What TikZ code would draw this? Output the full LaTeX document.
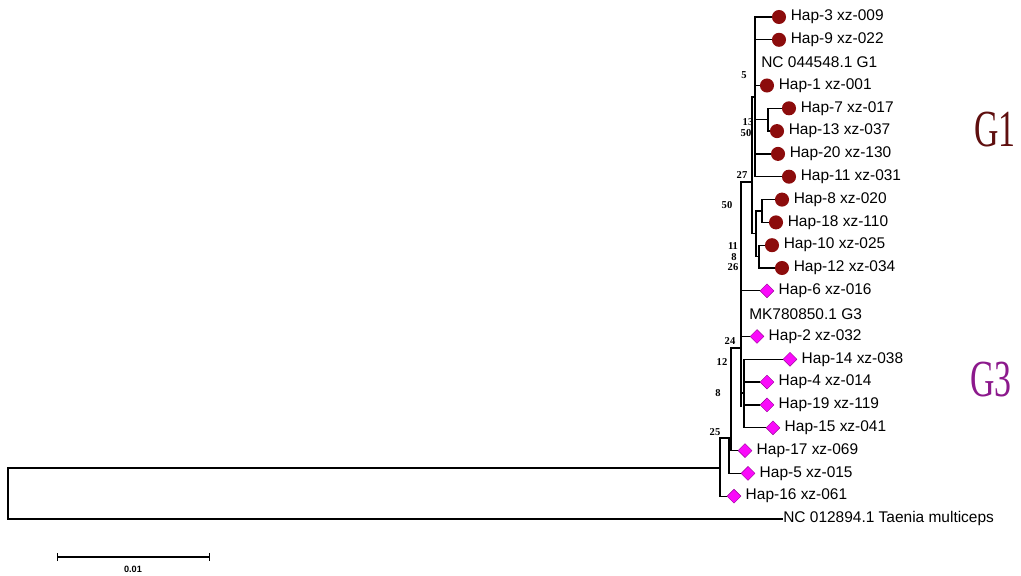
\documentclass[tikz,border=0pt]{standalone}
\usepackage{fontspec}
\setmainfont{Liberation Sans}
\newfontfamily\bsfont{Liberation Serif}
\usetikzlibrary{positioning,shapes.geometric,arrows.meta}

\definecolor{hapred}{RGB}{140,12,12}
\definecolor{hapmag}{RGB}{250,10,250}
\definecolor{hapedge}{RGB}{150,0,150}
\definecolor{gonecol}{RGB}{95,15,15}
\definecolor{gthreecol}{RGB}{140,25,140}

\tikzset{
  branch/.style={line width=0.9pt},
  gone/.style={circle,fill=hapred,minimum size=10pt,inner sep=0pt},
  gthree/.style={diamond,fill=hapmag,draw=hapedge,line width=0.3pt,minimum size=10pt,inner sep=0pt},
  lab/.style={font=\fontsize{11}{12}\selectfont,inner sep=0pt},
  boot/.style={font=\bsfont\bfseries\fontsize{7.5}{8}\selectfont,inner sep=0pt},
  grp/.style={font=\bsfont\fontsize{37}{40}\selectfont,inner sep=0pt}
}

\begin{document}
\begin{tikzpicture}[x=0.025cm,y=-0.025cm]
    \useasboundingbox (0,0) rectangle (1021,576);

    % G1 haplotypes
    \node[gone] (h3) at (779, 17) {};
    \node[lab, right=3pt of h3] (l3) {Hap-3 xz-009};
    \node[gone] (h9) at (779, 39.8) {};
    \node[lab, right=3pt of h9] (l9) {Hap-9 xz-022};
    \node[lab, anchor=west] (ncgone) at (761, 62.6) {NC 044548.1 G1};
    \node[gone] (h1) at (767, 85.5) {};
    \node[lab, right=3pt of h1] (l1) {Hap-1 xz-001};
    \node[gone] (h7) at (789, 108.3) {};
    \node[lab, right=3pt of h7] (l7) {Hap-7 xz-017};
    \node[gone] (h13) at (777, 131.1) {};
    \node[lab, right=3pt of h13] (l13) {Hap-13 xz-037};
    \node[gone] (h20) at (778, 153.9) {};
    \node[lab, right=3pt of h20] (l20) {Hap-20 xz-130};
    \node[gone] (h11) at (789, 176.7) {};
    \node[lab, right=3pt of h11] (l11) {Hap-11 xz-031};
    \node[gone] (h8) at (782, 199.6) {};
    \node[lab, right=3pt of h8] (l8) {Hap-8 xz-020};
    \node[gone] (h18) at (776, 222.4) {};
    \node[lab, right=3pt of h18] (l18) {Hap-18 xz-110};
    \node[gone] (h10) at (772, 245.2) {};
    \node[lab, right=3pt of h10] (l10) {Hap-10 xz-025};
    \node[gone] (h12) at (782, 268) {};
    \node[lab, right=3pt of h12] (l12) {Hap-12 xz-034};

    % G3 haplotypes
    \node[gthree] (h6) at (767, 290.8) {};
    \node[lab, right=3pt of h6] (l6) {Hap-6 xz-016};
    \node[lab, anchor=west] (mkgthree) at (749, 313.7) {MK780850.1 G3};
    \node[gthree] (h2) at (757, 336.5) {};
    \node[lab, right=3pt of h2] (l2) {Hap-2 xz-032};
    \node[gthree] (h14) at (790, 359.3) {};
    \node[lab, right=3pt of h14] (l14) {Hap-14 xz-038};
    \node[gthree] (h4) at (767, 382.1) {};
    \node[lab, right=3pt of h4] (l4) {Hap-4 xz-014};
    \node[gthree] (h19) at (767, 404.9) {};
    \node[lab, right=3pt of h19] (l19) {Hap-19 xz-119};
    \node[gthree] (h15) at (773, 427.8) {};
    \node[lab, right=3pt of h15] (l15) {Hap-15 xz-041};
    \node[gthree] (h17) at (745, 450.6) {};
    \node[lab, right=3pt of h17] (l17) {Hap-17 xz-069};
    \node[gthree] (h5) at (748, 473.4) {};
    \node[lab, right=3pt of h5] (l5) {Hap-5 xz-015};
    \node[gthree] (h16) at (734, 496.2) {};
    \node[lab, right=3pt of h16] (l16) {Hap-16 xz-061};

    % outgroup
    \node[lab, anchor=west] (nctaenia) at (783, 519) {NC 012894.1 Taenia multiceps};

    % inner nodes
    \coordinate (c713) at (768, 119.7);
    \coordinate (ga) at (755, 96.9);
    \coordinate (d818) at (762, 211);
    \coordinate (d1012) at (759, 256.6);
    \coordinate (gb) at (756, 233.8);
    \coordinate (gall) at (752, 182);
    \coordinate (ein) at (741, 294);
    \coordinate (s24) at (741, 348);
    \coordinate (f) at (744, 393);
    \coordinate (g8) at (731, 438);
    \coordinate (h25) at (729, 438);
    \coordinate (n25) at (720, 468);
    \coordinate (r) at (8, 494);

    \begin{scope}[branch]
        \draw (c713) |- (h7);
        \draw (c713) |- (h13);
        \draw (ga) |- (h3);
        \draw (ga) |- (h9);
        \draw (ga) |- (h1);
        \draw (ga) |- (c713);
        \draw (ga) |- (h20);
        \draw (ga) |- (h11);
        \draw (d818) |- (h8);
        \draw (d818) |- (h18);
        \draw (d1012) |- (h10);
        \draw (d1012) |- (h12);
        \draw (gb) |- (d818);
        \draw (gb) |- (d1012);
        \draw (gall) |- (ga);
        \draw (gall) |- (gb);
        \draw (ein) |- (gall);
        \draw[line width=1.8pt] (741, 268) -- (741, 407);
        \draw (ein) |- (h6);
        \draw (ein) |- (h2);
        \draw (ein) |- (f);
        \draw (f) |- (h14);
        \draw (f) |- (h4);
        \draw (f) |- (h19);
        \draw (f) |- (h15);
        \draw (g8) |- (s24);
        \draw (g8) |- (h17);
        \draw (h25) -- (g8);
        \draw (h25) |- (h5);
        \draw (n25) |- (h25);
        \draw (n25) |- (h16);
        \draw (r) |- (n25);
        \draw (r) |- (nctaenia);
    \end{scope}

    % bootstrap values
    \node[boot] (b5) at (744, 75) {5};
    \node[boot] (b13) at (748, 122) {13};
    \node[boot] (b50a) at (746, 133) {50};
    \node[boot] (b27) at (742, 175) {27};
    \node[boot] (b50b) at (727, 205) {50};
    \node[boot] (b11) at (733, 246) {11};
    \node[boot] (b8a) at (734, 257) {8};
    \node[boot] (b26) at (733, 267) {26};
    \node[boot] (b24) at (730, 341) {24};
    \node[boot] (b12) at (722, 362) {12};
    \node[boot] (b8b) at (718, 393) {8};
    \node[boot] (b25) at (715, 432) {25};

    % group labels
    \node[grp, text=gonecol, xscale=0.65] (tgone) at (995, 130) {G1};
    \node[grp, text=gthreecol, xscale=0.65] (tgthree) at (991, 380) {G3};

    % scale bar
    \coordinate (sb1) at (57, 557);
    \coordinate (sb2) at (210, 557);
    \draw[branch, {Bar[width=6pt]}-{Bar[width=6pt]}] (sb1) -- (sb2);
    \node[boot, font=\bfseries\fontsize{6.5}{7}\selectfont] (sblab) at (133, 569) {0.01};
\end{tikzpicture}
\end{document}
